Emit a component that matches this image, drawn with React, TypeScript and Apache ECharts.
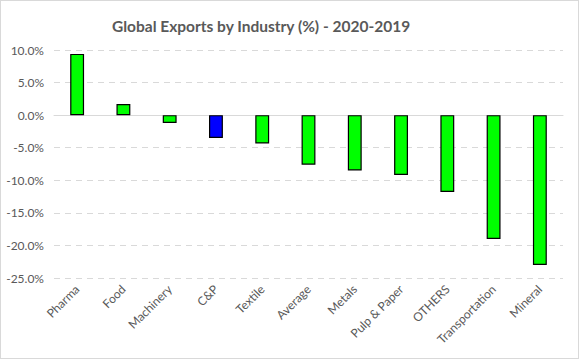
import React, { useEffect, useRef } from "react";
import * as echarts from "echarts";

const categories = ["Pharma", "Food", "Machinery", "C&P", "Textile", "Average", "Metals", "Pulp & Paper", "OTHERS", "Transportation", "Mineral"];
const values = [9.4, 1.7, -1.2, -3.5, -4.35, -7.6, -8.5, -9.2, -11.8, -19.0, -23.0];
const highlight = ["C&P"];
const yTicks = { min: -25, max: 10, interval: 5 };

export default function App() {
  const ref = useRef<HTMLDivElement>(null);
  useEffect(() => {
    document.body.style.margin = "0";
    const chart = echarts.init(ref.current!, undefined, { renderer: "svg" });
    const font = "Lato, 'Open Sans', sans-serif";
    chart.setOption({
      animation: false,
      backgroundColor: "#ffffff",
      title: {
        text: "Global Exports by Industry (%) - 2020-2019",
        left: 107,
        top: 13,
        textStyle: { fontFamily: font, fontSize: 15.5, fontWeight: "bold", color: "#595959" },
      },
      grid: { left: 54, right: 20, top: 50, bottom: 84, containLabel: false },
      xAxis: {
        type: "category",
        data: categories,
        axisLine: { onZero: true, lineStyle: { color: "#d9d9d9", width: 1 } },
        axisTick: { show: false },
        axisLabel: {
          rotate: 45,
          interval: 0,
          margin: 9,
          fontFamily: font,
          fontSize: 12,
          color: "#595959",
        },
      },
      yAxis: {
        type: "value",
        min: yTicks.min,
        max: yTicks.max,
        interval: yTicks.interval,
        axisLine: { show: false },
        axisTick: { show: false },
        splitLine: { lineStyle: { color: "#d9d9d9", type: [6, 5], width: 1 } },
        axisLabel: {
          formatter: (v: number) => v.toFixed(1) + "%",
          fontFamily: font,
          fontSize: 12,
          color: "#595959",
          margin: 10,
        },
      },
      series: [
        {
          type: "bar",
          barWidth: "30%",
          data: values.map((v, i) => ({
            value: v,
            itemStyle: {
              color: highlight.includes(categories[i]) ? "#0000ff" : "#00ff00",
              borderColor: "#000000",
              borderWidth: 1.2,
            },
          })),
        },
      ],
    });
    return () => chart.dispose();
  }, []);
  return (
    <div style={{ position: "absolute", left: 0, top: 0, width: 583, height: 362 }}>
      <div
        style={{
          position: "absolute",
          left: 0,
          top: 0,
          width: 579,
          height: 359,
          border: "1px solid #d9d9d9",
          boxSizing: "border-box",
          pointerEvents: "none",
          zIndex: 2,
        }}
      />
      <div ref={ref} style={{ width: 583, height: 362 }} />
    </div>
  );
}
